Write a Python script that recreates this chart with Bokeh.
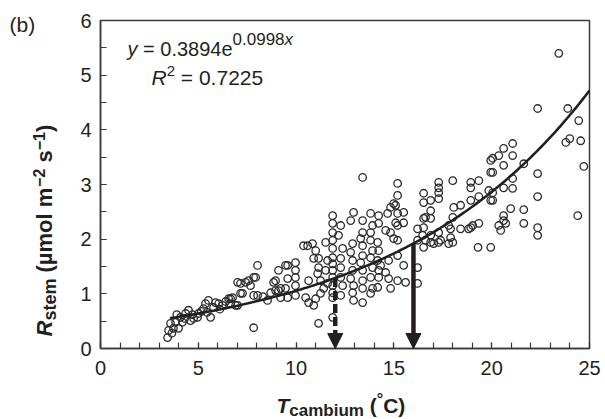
import numpy as np
from bokeh.plotting import figure
from bokeh.layouts import row, column
from bokeh.models import Label, Arrow, NormalHead, FixedTicker
from bokeh.embed import file_html
from bokeh.resources import INLINE

# ---------------- data ----------------
t_cambium = [
    # 3.4 - 10 degC
    3.43, 3.48, 3.58, 3.65, 3.73, 3.84, 3.90, 3.99, 4.09, 4.19, 4.30, 4.35, 4.50, 4.60, 4.70,
    4.76, 4.96, 5.01, 5.15, 5.27, 5.37, 5.45, 5.52, 5.63, 5.78, 5.88, 6.04, 6.10, 6.24, 6.40,
    6.55, 6.65, 6.65, 6.75, 6.91, 7.01, 7.01, 7.16, 7.16, 7.26, 7.42, 7.57, 7.67, 7.83, 7.93,
    7.83, 8.03, 8.03, 7.83, 8.30, 8.54, 8.70, 8.85, 8.95, 8.95, 9.10, 9.10, 9.21, 9.21, 9.46,
    9.46, 9.57, 9.57, 9.57,
    # 10 - 15.2 degC
    9.97, 9.97, 9.97, 9.97, 9.97, 10.38, 10.59, 10.84, 11.00, 10.90, 11.15, 11.15, 11.10, 11.25,
    10.64, 10.49, 10.64, 10.90, 11.00, 11.25, 11.41, 11.61, 11.51, 11.61, 11.51,
    11.87, 11.87, 11.87, 11.87, 11.87, 11.87, 11.87, 11.87, 11.87, 11.87, 11.87, 11.87, 11.87,
    11.15, 12.28, 12.17, 12.38, 12.28, 12.28, 12.28, 12.38, 12.28,
    12.79, 12.94, 12.89, 12.79, 12.89, 12.89, 12.79, 12.94, 12.89, 12.94,
    13.40, 13.40, 13.40, 13.30, 13.40, 13.40, 13.30, 13.40, 13.40, 13.40, 13.40,
    13.81, 13.91, 13.81, 13.81, 13.91, 13.81, 13.91, 13.81, 13.91, 13.81,
    14.22, 14.22, 14.17, 14.22, 14.17, 14.22, 14.22, 14.17,
    14.68, 14.58, 14.83, 14.83, 14.99, 14.32, 14.58, 14.73, 14.73, 14.83,
    15.19, 15.19, 15.09, 15.19, 15.09, 15.19, 15.19, 15.19, 15.19, 14.99,
    # 15.5 - 20 degC
    15.50, 15.50, 15.50, 15.60, 16.21, 16.21, 16.21, 16.21, 16.47, 16.52, 16.52, 16.52, 16.52,
    16.52, 16.62, 16.62, 16.88, 16.88, 16.88, 16.88, 16.88, 17.03,
    17.29, 17.29, 17.29, 17.29, 17.29, 17.29,
    17.39, 17.80, 17.80, 17.90, 17.90, 18.01, 18.06, 18.01, 18.01, 18.41, 18.41, 18.82,
    18.93, 18.93, 18.93, 18.93, 19.03, 19.34, 19.34, 19.34, 19.30,
    19.85, 19.95, 19.95, 19.95, 19.95,
    # 20 - 25 degC
    20.05, 20.05, 20.05, 20.05, 20.36, 20.36, 20.46, 20.61, 20.61, 20.61, 20.61, 20.61, 20.72,
    20.97, 21.07, 21.07, 21.07, 21.07, 21.64, 21.64, 21.64, 22.35, 22.35, 22.35, 22.35, 22.35,
    23.43, 23.79, 23.89, 23.99, 24.40, 24.45, 24.55, 24.71,
]
r_stem = [
    0.20, 0.33, 0.46, 0.28, 0.37, 0.48, 0.62, 0.37, 0.57, 0.48, 0.55, 0.64, 0.70, 0.51, 0.62,
    0.55, 0.57, 0.64, 0.68, 0.73, 0.82, 0.66, 0.88, 0.57, 0.75, 0.84, 0.82, 0.72, 0.79, 0.86,
    0.91, 0.91, 0.82, 0.93, 0.79, 1.21, 0.79, 1.19, 1.01, 1.01, 1.21, 1.24, 1.15, 1.30, 1.30,
    0.97, 1.52, 0.97, 0.38, 0.95, 0.88, 1.02, 1.21, 1.24, 1.06, 1.43, 1.06, 1.10, 0.93, 1.52,
    1.10, 1.52, 1.28, 0.93,
    1.57, 1.43, 1.30, 1.15, 0.97, 1.88, 1.88, 1.92, 1.79, 1.65, 1.65, 1.48, 1.37, 1.24,
    1.24, 0.93, 0.84, 0.79, 0.91, 1.01, 1.10, 1.19, 1.43, 1.61, 1.94,
    2.43, 2.29, 2.12, 1.98, 1.83, 1.66, 1.55, 1.43, 1.30, 1.15, 1.02, 0.93, 0.57,
    0.46, 2.25, 2.07, 1.83, 1.65, 1.48, 1.30, 1.15, 0.97,
    2.34, 2.49, 1.92, 1.76, 1.61, 1.43, 1.28, 1.15, 1.02, 0.88,
    3.13, 2.34, 2.12, 2.01, 1.88, 1.70, 1.57, 1.43, 1.24, 1.10, 0.84,
    2.47, 2.25, 2.12, 1.98, 1.79, 1.66, 1.48, 1.30, 1.10, 1.01,
    2.43, 2.29, 1.94, 1.79, 1.61, 1.43, 1.30, 1.12,
    2.47, 2.16, 2.12, 2.58, 2.65, 1.52, 1.39, 1.61, 1.28, 1.10,
    3.02, 2.80, 2.62, 2.47, 2.30, 2.25, 1.98, 1.70, 1.24, 2.01,
    2.49, 2.30, 1.52, 1.21, 2.19, 1.98, 1.48, 1.19, 2.07, 2.84, 2.67, 2.38, 2.21,
    1.85, 2.40, 1.98, 2.71, 2.52, 2.38, 2.07, 1.94, 1.92,
    3.04, 2.94, 2.85, 2.74, 2.12, 1.94,
    1.98, 2.25, 1.92, 2.19, 2.03, 3.07, 2.58, 2.40, 1.94, 2.62, 2.19, 2.19,
    3.04, 2.94, 2.71, 2.21, 2.25, 3.07, 2.78, 2.29, 1.85,
    2.89, 3.44, 3.22, 2.71, 1.85,
    3.48, 3.22, 2.85, 2.71, 3.53, 2.25, 2.16, 3.66, 3.35, 2.94, 2.43, 2.34, 2.29,
    2.56, 3.75, 3.53, 3.11, 2.93, 3.38, 2.54, 2.29, 4.39, 3.20, 2.78, 2.21, 2.07,
    5.40, 3.77, 4.39, 3.84, 2.43, 4.17, 3.80, 3.33,
]
fit_a, fit_b = 0.3894, 0.0998          # y = a * exp(b x)
fit_x_range = (3.55, 25.0)
arrow_temps = [12, 16]
arrow_dashes = ["9 4", "solid"]
x_major = [0, 5, 10, 15, 20, 25]
x_minor = list(range(0, 26))
y_major = [0, 1, 2, 3, 4, 5, 6]
y_minor = [i * 0.5 for i in range(13)]

# ---------------- layout ----------------
W, H = 605, 419
LW = 60                      # width of the left strip holding the y title
BH = 31                      # height of the bottom strip holding the x title
MW, MH = W - LW, H - BH      # main figure size
FL, FR, FT, FB = 100, 16, 20, 71   # frame borders in full-canvas pixels
XMAX, YMAX = 25.0, 6.0
INK = "#231f20"
FONT = "Liberation Sans"
BASE_FIX = 0.3               # renderer places glyphs ~0.3 em below the requested baseline

def px2x(px):
    return (px - FL) / (W - FL - FR) * XMAX

def py2y(py):
    return (H - FB - py) / (H - FT - FB) * YMAX

def no_align(f):
    try:
        f.frame_align = False
    except Exception:
        pass

p = figure(width=MW, height=MH, x_range=(0, XMAX), y_range=(0, YMAX),
           output_backend="svg", toolbar_location=None,
           min_border_left=FL - LW, min_border_right=FR, min_border_top=FT,
           min_border_bottom=FB - BH)
no_align(p)
p.xgrid.visible = False
p.ygrid.visible = False
p.outline_line_color = "#3a3a3a"
p.outline_line_width = 1.5

for ax, maj, mnr in ((p.xaxis[0], x_major, x_minor), (p.yaxis[0], y_major, y_minor)):
    ax.ticker = FixedTicker(ticks=maj, minor_ticks=mnr)
    ax.axis_line_color = "#3a3a3a"
    ax.axis_line_width = 1.5
    ax.major_tick_in = 6
    ax.major_tick_out = 0
    ax.minor_tick_in = 6
    ax.minor_tick_out = 0
    ax.major_tick_line_color = "#3a3a3a"
    ax.minor_tick_line_color = "#3a3a3a"
    ax.major_tick_line_width = 1.2
    ax.minor_tick_line_width = 1.2
    ax.major_label_text_font = FONT
    ax.major_label_text_font_size = "20px"
    ax.major_label_text_color = INK
p.xaxis.major_label_standoff = 12
p.yaxis.major_label_standoff = 9

# scatter
p.scatter(t_cambium, r_stem, marker="circle", size=7.5, fill_alpha=0,
          line_color="#2a2a2a", line_width=1.3)

# fitted curve
xs = np.linspace(fit_x_range[0], fit_x_range[1], 200)
p.line(xs, fit_a * np.exp(fit_b * xs), line_color=INK, line_width=2.6)

# arrows
for t, dash in zip(arrow_temps, arrow_dashes):
    p.add_layout(Arrow(x_start=t, y_start=fit_a * np.exp(fit_b * t), x_end=t, y_end=0,
                       line_color=INK, line_width=4.5, line_dash=dash,
                       end=NormalHead(size=15, fill_color=INK, line_color=INK, line_width=1)))

# auxiliary strips for the axis titles (pixel coordinates of the full canvas)
def strip(w, h, x0, y0):
    f = figure(width=w, height=h, title=None,
               x_range=(x0, x0 + w), y_range=(H - y0 - h, H - y0),
               output_backend="svg", toolbar_location=None, x_axis_type=None, y_axis_type=None,
               min_border=0, min_border_left=0, min_border_right=0, min_border_top=0,
               min_border_bottom=0)
    no_align(f)
    f.outline_line_color = None
    f.xgrid.visible = False
    f.ygrid.visible = False
    return f

left = strip(LW, MH, 0, 0)
bottom = strip(W, BH, 0, MH)

# ---------------- text ----------------
REG = {'0': .556, '1': .556, '2': .556, '3': .556, '4': .556, '5': .556, '6': .556, '7': .556,
       '8': .556, '9': .556, '.': .278, ' ': .278, '=': .584, 'y': .5, 'e': .556, 'x': .5,
       'R': .722, '(': .333, ')': .333, 'b': .556}
BLD = {'T': .611, 'c': .556, 'a': .556, 'm': .889, 'b': .611, 'i': .278, 'u': .611, ' ': .278,
       '(': .333, ')': .333, '°': .4, 'C': .722, 'R': .722, 's': .556, 't': .333, 'e': .556,
       'µ': .611, 'o': .611, 'l': .278, '−': .584, '1': .556, '2': .556}

def width(text, size, style):
    table = BLD if "bold" in style else REG
    return sum(table.get(c, .556) for c in text) * size

def runs(fig, items, x0, base, angle=0.0, data=False):
    """items: (text, size_px, style, raise_px); horizontal or rotated 90deg CCW."""
    pos = x0
    sgn = 1 if angle == 0 else -1
    for text, size, style, rise in items:
        lead = len(text) - len(text.lstrip(" "))
        pos += sgn * width(" " * lead, size, style)
        text = text.lstrip(" ")
        drop = rise + BASE_FIX * size
        if angle == 0:
            cx, cy = pos, base - drop
        else:
            cx, cy = base - drop, pos
        lx, ly = (px2x(cx), py2y(cy)) if data else (cx, H - cy)
        fig.add_layout(Label(x=lx, y=ly, text=text, angle=angle, text_font=FONT,
                             text_font_size=f"{size}px", text_font_style=style,
                             text_color=INK, text_align="left", text_baseline="alphabetic"))
        pos += sgn * width(text, size, style)

# panel tag
runs(left, [("(b)", 21, "normal", 0)], 9, 30)

# equation
runs(p, [("y", 20, "italic", 0), (" = 0.3894e", 20, "normal", 0),
         ("0.0998", 17, "normal", 10), ("x", 17, "italic", 10)], 127, 54, data=True)
runs(p, [("R", 21, "italic", 0), ("2", 15, "normal", 8), (" = 0.7225", 21, "normal", 0)],
     151, 83, data=True)

# x axis title
runs(bottom, [("T", 21, "bold italic", 0), ("cambium", 17, "bold", -4), (" (", 21, "bold", 0),
              ("°", 16, "bold", 7), ("C)", 21, "bold", 0)], 276, 411)

# y axis title (rotated)
runs(left, [("R", 22, "bold italic", 0), ("stem", 18, "bold", -4), (" (µmol m", 22, "bold", 0),
            ("−2", 16, "bold", 8), (" s", 22, "bold", 0), ("−1", 16, "bold", 8),
            (")", 22, "bold", 0)], 336, 51, angle=np.pi / 2)

layout = column(row(left, p), bottom)
open("out.html", "w").write(file_html(layout, INLINE))
